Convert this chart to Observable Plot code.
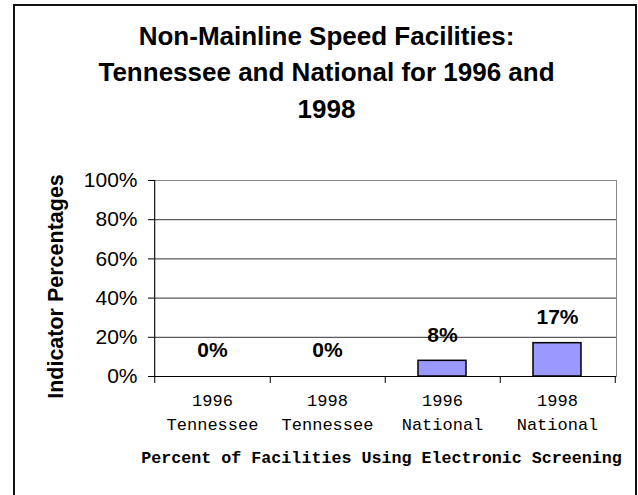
<!DOCTYPE html>
<html><head><meta charset="utf-8">
<script src="https://cdn.jsdelivr.net/npm/d3@7"></script>
<script src="https://cdn.jsdelivr.net/npm/@observablehq/plot@0.6"></script>
<style>
html,body{margin:0;padding:0;background:#fff;}
#wrap{position:relative;width:638px;height:495px;overflow:hidden;}
#border{position:absolute;left:13px;top:4px;width:620px;height:520px;border:2px solid #111;}
#chart{position:absolute;left:0;top:0;}
</style></head><body>
<div id="wrap"><div id="border"></div><div id="chart"></div></div>
<script>
const titleLines = ["Non-Mainline Speed Facilities:", "Tennessee and National for 1996 and", "1998"];
const categories = ["1996 Tennessee", "1998 Tennessee", "1996 National", "1998 National"];
const years = ["1996", "1998", "1996", "1998"];
const regions = ["Tennessee", "Tennessee", "National", "National"];
const values = [0, 0, 8, 17];
const yTicks = [0, 20, 40, 60, 80, 100];
const yLabel = "Indicator Percentages";
const xLabel = "Percent of Facilities Using Electronic Screening";

const data = categories.map((c, i) => ({cat: c, value: values[i]}));

const W = 638, H = 495, ML = 154, MR = 22, MT = 180, MB = 119;
const plotH = H - MT - MB;
const step = (W - ML - MR) / categories.length;
const sans = "'Liberation Sans', Arial, sans-serif";
const mono = "'Courier New', 'Liberation Mono', monospace";

const chart = Plot.plot({
  width: W, height: H,
  marginLeft: ML, marginRight: MR, marginTop: MT, marginBottom: MB,
  style: {fontFamily: sans, fontSize: "21px", color: "#000", background: "transparent"},
  x: {type: "band", domain: categories, paddingInner: 0.58, paddingOuter: 0.29, axis: null},
  y: {domain: [0, 100], axis: null},
  marks: [
    Plot.ruleY(yTicks.filter(d => d > 0 && d < 100), {stroke: "#333", strokeWidth: 1}),
    Plot.frame({stroke: "#888", strokeWidth: 1}),
    Plot.barY(data, {x: "cat", y: "value", fill: "#9999ff", stroke: "#000", strokeWidth: 1.5}),
    Plot.ruleY([0], {stroke: "#000", strokeWidth: 1}),
    Plot.ruleX([categories[0]], {dx: -step / 2, stroke: "#000", insetBottom: -7}),
    Plot.ruleX(categories, {dx: step / 2, stroke: "#000", insetTop: plotH, insetBottom: -7}),
    Plot.axisY({ticks: yTicks, tickSize: 6, tickPadding: 11, tickFormat: d => d + "%",
      fontSize: 21, fontFamily: sans, label: null}),
    Plot.axisX({tickSize: 0, tickPadding: 12, fontSize: 17, fontFamily: mono, lineHeight: 24 / 17,
      tickFormat: d => years[categories.indexOf(d)] + "\n" + regions[categories.indexOf(d)], label: null}),
    Plot.text(data, {x: "cat", y: "value", text: d => d.value + "%", dy: -26,
      fontSize: 21, fontWeight: "bold", fontFamily: sans}),
    Plot.text([titleLines.join("\n")], {frameAnchor: "top", dx: -59, dy: -111, lineAnchor: "middle",
      textAnchor: "middle", lineHeight: 36.5 / 26, fontSize: 26, fontWeight: "bold", fontFamily: sans}),
    Plot.text([yLabel], {frameAnchor: "left", rotate: -90, dx: -98, dy: 8, textAnchor: "middle", lineAnchor: "middle",
      fontSize: 21.5, fontWeight: "bold", fontFamily: sans}),
    Plot.text([xLabel], {frameAnchor: "bottom", dx: -4, dy: 81, textAnchor: "middle", lineAnchor: "middle",
      fontSize: 16.7, fontWeight: "bold", fontFamily: mono})
  ]
});
document.getElementById("chart").appendChild(chart);
</script>
</body></html>
